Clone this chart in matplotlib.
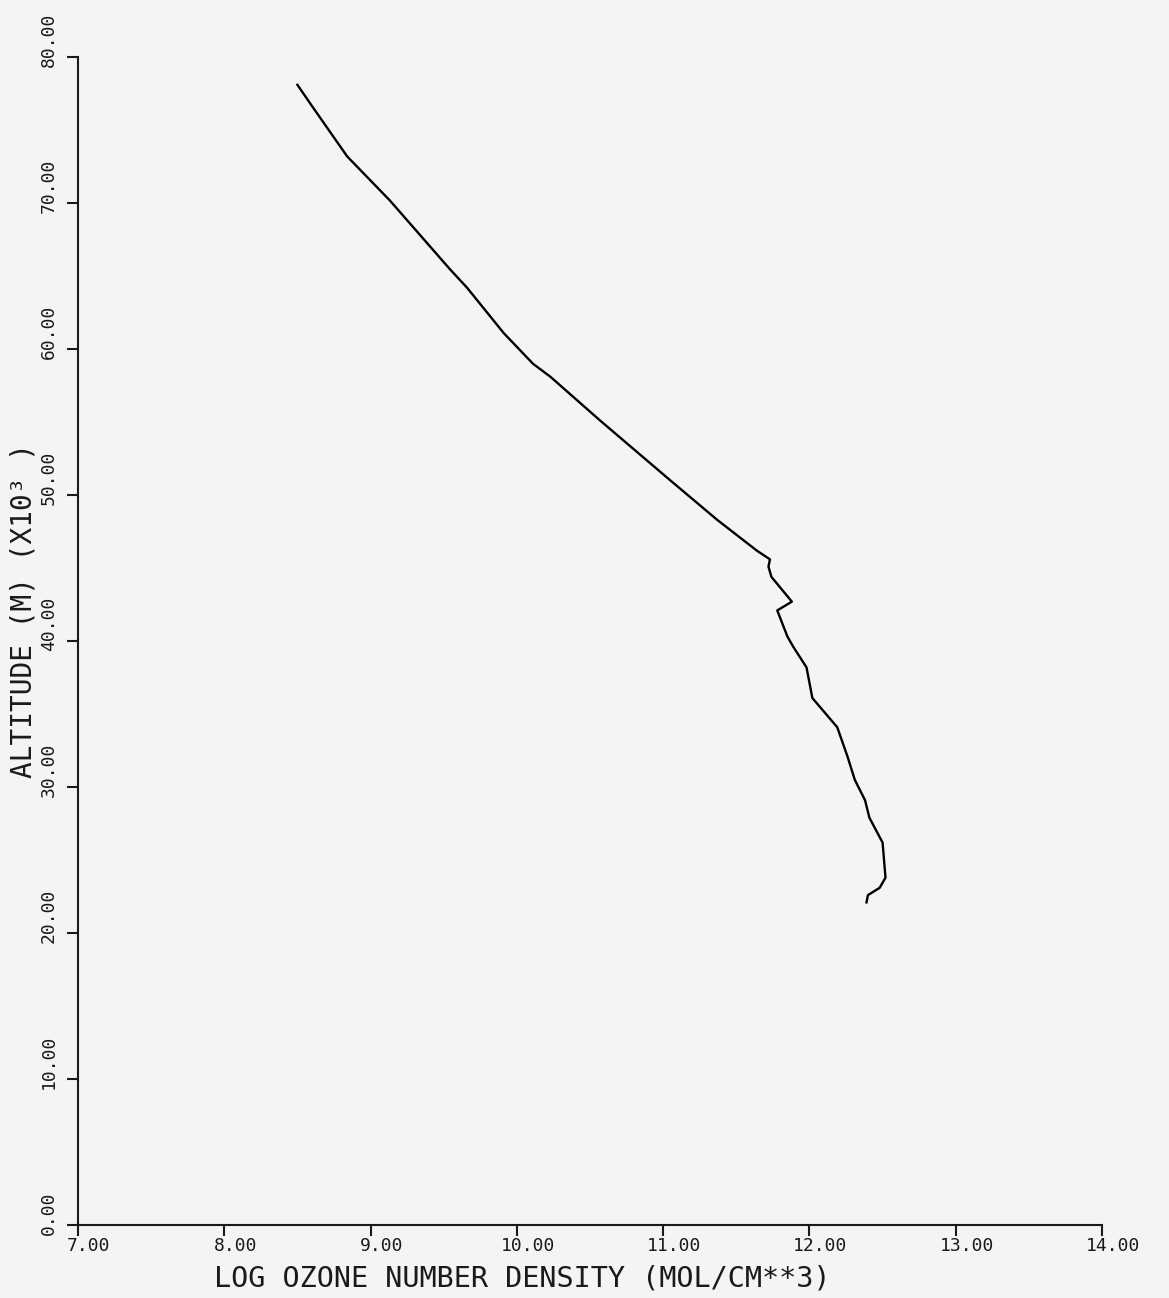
import matplotlib
matplotlib.use("Agg")
import matplotlib.pyplot as plt
import matplotlib.transforms as mtransforms

# ozone profile (log number density, altitude in km)
log_density = [8.50, 8.61, 8.84, 9.13, 9.20, 9.54, 9.66, 9.91, 10.11, 10.23,
               10.57, 11.05, 11.37, 11.64, 11.73, 11.72, 11.74, 11.88, 11.78,
               11.85, 11.89, 11.98, 12.02, 12.19, 12.26, 12.31, 12.38, 12.41,
               12.50, 12.52, 12.48, 12.40, 12.39]
altitude = [78.1, 76.5, 73.2, 70.2, 69.4, 65.5, 64.2, 61.1, 59.0, 58.1,
            55.1, 51.0, 48.3, 46.2, 45.6, 45.1, 44.4, 42.7, 42.1,
            40.3, 39.6, 38.2, 36.1, 34.1, 32.1, 30.5, 29.1, 27.9,
            26.2, 23.8, 23.1, 22.6, 22.1]

xticks = [7, 8, 9, 10, 11, 12, 13, 14]
xtick_labels = ["7.00", "8.00", "9.00", "10.00", "11.00", "12.00", "13.00", "14.00"]
yticks = [0, 10, 20, 30, 40, 50, 60, 70, 80]
ytick_labels = ["0.00", "10.00", "20.00", "30.00", "40.00", "50.00", "60.00", "70.00", "80.00"]

bg = "#f4f4f2"
ink = "#1a1a1a"
mono = "DejaVu Sans Mono"

fig = plt.figure(figsize=(11.69, 12.98), dpi=100, facecolor=bg)
ax = fig.add_axes([0.0667, 0.0562, 0.876, 0.8998])
ax.set_facecolor(bg)

ax.plot(log_density, altitude, color="black", linewidth=1.7)

ax.set_xlim(7, 14)
ax.set_ylim(0, 80)
for s in ["top", "right"]:
    ax.spines[s].set_visible(False)
for s in ["left", "bottom"]:
    ax.spines[s].set_linewidth(1.5)
    ax.spines[s].set_color(ink)

ax.set_xticks(xticks)
ax.set_yticks(yticks)
ax.tick_params(direction="out", length=8, width=1.5, color=ink,
               labelbottom=False, labelleft=False)

# tick labels, placed like the old plotter did
xt = mtransforms.offset_copy(ax.get_xaxis_transform(), fig=fig, x=11, y=-12, units="dots")
for v, lab in zip(xticks, xtick_labels):
    ax.text(v, 0, lab, transform=xt, ha="center", va="top",
            fontsize=13, family=mono, color=ink)

yt = mtransforms.offset_copy(ax.get_yaxis_transform(), fig=fig, x=-29, y=-10, units="dots")
for v, lab in zip(yticks, ytick_labels):
    ax.text(0, v, lab, transform=yt, ha="center", va="bottom", rotation=90,
            fontsize=13, family=mono, color=ink)

fig.text(0.447, 1 - 1278 / 1298, "LOG OZONE NUMBER DENSITY (MOL/CM**3)",
         ha="center", va="center", fontsize=20.5, family=mono, color=ink)
fig.text(24 / 1169, 1 - 610 / 1298, "ALTITUDE (M) (X10³ )",
         ha="center", va="center", rotation=90, fontsize=20, family=mono, color=ink)

fig.savefig("out.png", dpi=100, facecolor=bg)
